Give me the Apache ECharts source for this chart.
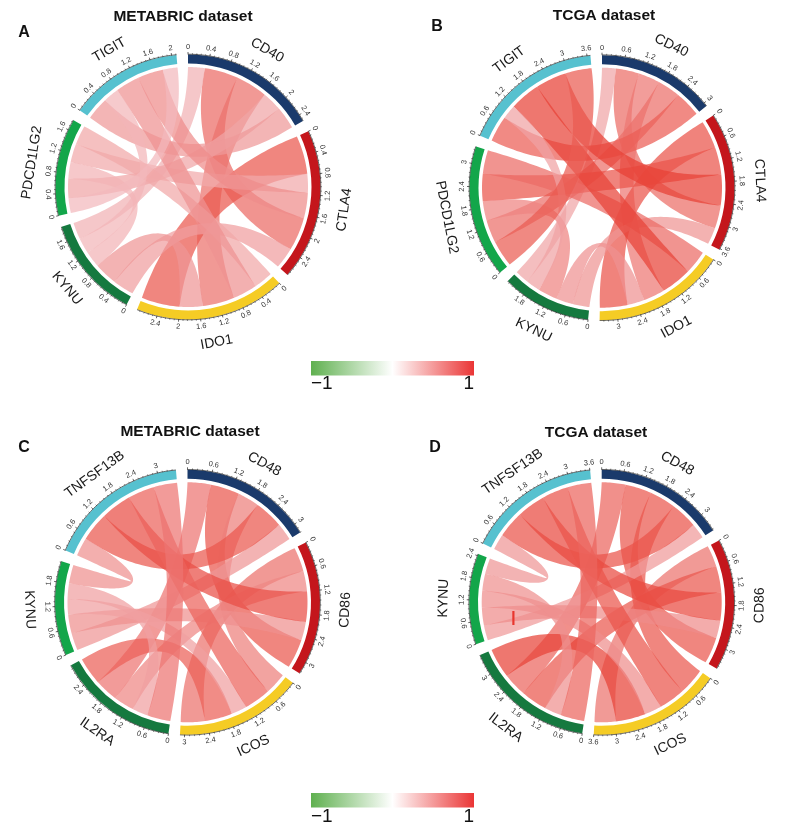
<!DOCTYPE html>
<html><head><meta charset="utf-8">
<style>html,body{margin:0;padding:0;background:#fff}#c{width:789px;height:832px}</style>
<script src="https://cdn.jsdelivr.net/npm/echarts@6/dist/echarts.min.js"></script>
</head><body><div id="c"></div>
<script>
// ---------- data ----------
const genesA = ['CD40','CTLA4','IDO1','KYNU','PDCD1LG2','TIGIT'];
const genesC = ['CD48','CD86','ICOS','IL2RA','KYNU','TNFSF13B'];
// [geneIndex, geneIndex, correlation]
const linksA = [[0,1,.68],[0,2,.65],[0,3,.34],[0,4,.40],[0,5,.46],[1,2,.78],[1,3,.43],[1,4,.38],[1,5,.52],[2,3,.47],[2,4,.39],[2,5,.49],[3,4,.33],[3,5,.32],[4,5,.30]];
const linksB = [[0,1,.67],[0,2,.62],[0,3,.40],[0,4,.66],[0,5,.75],[1,2,.80],[1,3,.48],[1,4,.79],[1,5,.89],[2,3,.49],[2,4,.68],[2,5,.88],[3,4,.56],[3,5,.41],[4,5,.76]];
const linksC = [[0,1,.78],[0,2,.58],[0,3,.63],[0,4,.47],[0,5,.78],[1,2,.65],[1,3,.55],[1,4,.50],[1,5,.82],[2,3,.74],[2,4,.42],[2,5,.72],[3,4,.42],[3,5,.63],[4,5,.50]];
const linksD = [[0,1,.78],[0,2,.78],[0,3,.71],[0,4,.45],[0,5,.80],[1,2,.64],[1,3,.78],[1,4,.52],[1,5,.84],[2,3,.88],[2,4,.51],[2,5,.79],[3,4,.50],[3,5,.71],[4,5,.47]];
// clockwise order of the partner genes inside each gene's arc
const orderAB = [[3,1,2,4,5],[2,4,5,0,3],[4,5,0,3,1],[1,2,4,5,0],[5,0,3,1,2],[0,3,2,1,4]];
const orderCD = [[3,1,2,5,4],[2,3,5,4,0],[0,5,4,3,1],[5,4,1,0,2],[0,1,2,3,5],[4,0,1,2,3]];
const sectorColors = ['#1a3a6b','#c4161c','#f5cc25','#15793f','#13a64a','#56c1cf'];
const titles = ['METABRIC dataset','TCGA dataset','METABRIC dataset','TCGA dataset'];
const letters = ['A','B','C','D'];
const tickSteps = [0.4,0.6,0.6,0.6];
const legendLabels = ['\u22121','1'];

// ---------- layout ----------
const panels = [
 {genes:genesA,links:linksA,order:orderAB,cx:188,cy:187,title:[183,17],letter:[24,33]},
 {genes:genesA,links:linksB,order:orderAB,cx:602,cy:187.7,title:[604,16],letter:[437,27]},
 {genes:genesC,links:linksC,order:orderCD,cx:187.5,cy:602.3,title:[190,432],letter:[24,448]},
 {genes:genesC,links:linksD,order:orderCD,cx:601.7,cy:602.3,title:[596,433],letter:[435,448]}
];
const GAP=5, R_RIB=120, R_IN=123.5, R_OUT=132.5, R_TICK=135, R_TICKMIN=134, R_TL=140, R_GENE=158, KEEP=.6;
const FONT='"Liberation Sans",Arial,sans-serif';

function layout(p){
  const n=p.genes.length, sums=new Array(n).fill(0);
  p.links.forEach(l=>{sums[l[0]]+=l[2];sums[l[1]]+=l[2];});
  const total=sums.reduce((a,b)=>a+b,0), k=(360-GAP*n)/total;
  const start=[];let a=0;
  for(let i=0;i<n;i++){start.push(a);a+=sums[i]*k+GAP;}
  const val=(i,j)=>{const l=p.links.find(x=>(x[0]===i&&x[1]===j)||(x[0]===j&&x[1]===i));return l[2];};
  const span={};
  for(let i=0;i<n;i++){let t=start[i];p.order[i].forEach(j=>{const w=val(i,j)*k;span[i+'_'+j]=[t,t+w];t+=w;});}
  return {sums,k,start,span};
}
const D2R=Math.PI/180, mod=d=>((d%360)+360)%360;
function pt(p,deg,r){const t=deg*D2R;return [p.cx+r*Math.sin(t),p.cy-r*Math.cos(t)];}
function ribbonColor(r){
  const lo=[242,185,189],hi=[232,62,50];
  const t=Math.max(0,Math.min(1,(r-.3)/.6));
  return `rgba(${lo.map((c,i)=>Math.round(c+(hi[i]-c)*t)).join(',')},.72)`;
}
function arcPts(p,a0,a1,r,n){const o=[];for(let i=0;i<=n;i++)o.push(pt(p,a0+(a1-a0)*i/n,r));return o;}
function cubic(A,C1,C2,B,n){const o=[];for(let i=1;i<n;i++){const t=i/n,u=1-t,f=(j)=>u*u*u*A[j]+3*u*u*t*C1[j]+3*u*t*t*C2[j]+t*t*t*B[j];o.push([f(0),f(1)]);}return o;}
// control point: 1/3 of the way out along the arc's middle, plus part of the edge's offset from that middle
function ctrl(p,P,M){return [p.cx+(M[0]-p.cx)/3+KEEP*(P[0]-M[0]),p.cy+(M[1]-p.cy)/3+KEEP*(P[1]-M[1])];}
function ribbonPoints(p,a,b){
  const A=arcPts(p,a[0],a[1],R_RIB,12),B=arcPts(p,b[0],b[1],R_RIB,12);
  const Am=pt(p,(a[0]+a[1])/2,R_RIB),Bm=pt(p,(b[0]+b[1])/2,R_RIB);
  const a1=A[A.length-1],b0=B[0],b1=B[B.length-1],a0=A[0];
  return A.concat(cubic(a1,ctrl(p,a1,Am),ctrl(p,b0,Bm),b0,60),B,cubic(b1,ctrl(p,b1,Bm),ctrl(p,a0,Am),a0,60));
}
function tangentRot(deg){
  const d=mod(deg);
  return (d>90&&d<270?180-d:-d)*D2R;
}
const fmt=v=>String(+v.toFixed(1));

const series=[];
panels.forEach((p,pi)=>{
  const L=layout(p);
  series.push({type:'custom',coordinateSystem:'none',silent:true,z:2,
    data:p.links,
    renderItem(params){
      const l=p.links[params.dataIndex];
      return {type:'polygon',shape:{points:ribbonPoints(p,L.span[l[0]+'_'+l[1]],L.span[l[1]+'_'+l[0]])},
        style:{fill:ribbonColor(l[2])}};
    }});
  series.push({type:'custom',coordinateSystem:'none',silent:true,z:3,
    data:p.genes,
    renderItem(params){
      const i=params.dataIndex,a0=L.start[i],a1=a0+L.sums[i]*L.k,kids=[];
      const rad=d=>(d-90)*D2R;
      kids.push({type:'sector',shape:{cx:p.cx,cy:p.cy,r:R_OUT,r0:R_IN,startAngle:rad(a0),endAngle:rad(a1),clockwise:true},
        style:{fill:sectorColors[i]}});
      kids.push({type:'polyline',shape:{points:arcPts(p,a0,a1,R_OUT+.3,40)},style:{stroke:'#111',lineWidth:.6,fill:null}});
      const step=tickSteps[pi],minor=step/5;
      const nT=Math.floor(L.sums[i]/minor+1e-6);
      for(let m=0;m<=nT;m++){
        const v=m*minor,deg=a0+v*L.k,major=m%5===0;
        const A=pt(p,deg,R_OUT),B=pt(p,deg,major?R_TICK:R_TICKMIN);
        kids.push({type:'line',shape:{x1:A[0],y1:A[1],x2:B[0],y2:B[1]},style:{stroke:'#222',lineWidth:major?.7:.5}});
        if(major){const T=pt(p,deg,R_TL);
          kids.push({type:'text',x:T[0],y:T[1],rotation:tangentRot(deg),
            style:{text:fmt(v),fill:'#333',font:'7.5px '+FONT,textAlign:'center',textVerticalAlign:'middle'}});}
      }
      const mid=(a0+a1)/2,G=pt(p,mid,R_GENE);
      kids.push({type:'text',x:G[0],y:G[1],rotation:tangentRot(mid),
        style:{text:p.genes[i],fill:'#1a1a1a',font:'14px '+FONT,textAlign:'center',textVerticalAlign:'middle'}});
      return {type:'group',children:kids};
    }});
});

const graphic=[];
panels.forEach((p,i)=>{
  graphic.push({type:'text',x:p.title[0],y:p.title[1],style:{text:titles[i],font:'bold 15.5px '+FONT,fill:'#111',textAlign:'center',textVerticalAlign:'middle'}});
  graphic.push({type:'text',x:p.letter[0],y:p.letter[1],style:{text:letters[i],font:'bold 16px '+FONT,fill:'#111',textAlign:'center',textVerticalAlign:'middle'}});
});
[[361,384],[793,817]].forEach(([y,ty])=>{
  graphic.push({type:'rect',shape:{x:311,y:y,width:163,height:14.5},style:{fill:new echarts.graphic.LinearGradient(0,0,1,0,[
    {offset:0,color:'#5fb04f'},{offset:.5,color:'#ffffff'},{offset:1,color:'#ea3535'}])}});
  graphic.push({type:'text',x:311,y:ty,style:{text:legendLabels[0],font:'19px '+FONT,fill:'#111',textAlign:'left',textVerticalAlign:'middle'}});
  graphic.push({type:'text',x:474,y:ty,style:{text:legendLabels[1],font:'19px '+FONT,fill:'#111',textAlign:'right',textVerticalAlign:'middle'}});
});
// small red stroke present inside panel D
graphic.push({type:'rect',shape:{x:512.3,y:611,width:2.2,height:14},z:10,style:{fill:'#e8362e'}});

const chart=echarts.init(document.getElementById('c'),null,{renderer:'canvas'});
chart.setOption({animation:false,backgroundColor:'#fff',series,graphic});
</script></body></html>
